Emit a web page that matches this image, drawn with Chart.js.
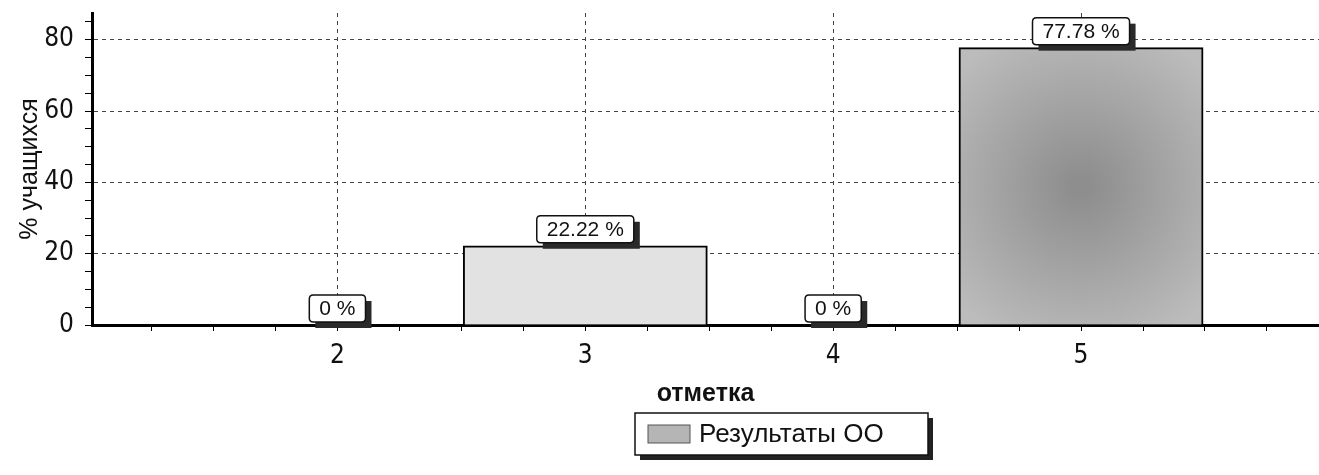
<!DOCTYPE html>
<html>
<head>
<meta charset="utf-8">
<script src="https://cdn.jsdelivr.net/npm/chart.js@4/dist/chart.umd.min.js"></script>
<style>
  html, body { margin: 0; padding: 0; background: #fff; }
  #wrap { width: 1319px; height: 475px; }
</style>
</head>
<body>
<div id="wrap"><canvas id="gradesChart"></canvas></div>
<script>
const grades = [2, 3, 4, 5]
const percents = [0, 22.22, 0, 77.78]
const barColors = ['#d6d6d6', '#e2e2e2', '#d6d6d6', '#a4a4a4']
const seriesName = 'Результаты ОО'
const xTitle = 'отметка'
const yTitle = '% учащихся'

const narrow = "'Liberation Sans Narrow', 'DejaVu Sans Condensed', sans-serif"
const sans = "'Liberation Sans', Arial, sans-serif"

const roundRect = (ctx, x, y, w, h, r) => {
  ctx.beginPath()
  ctx.moveTo(x + r, y)
  ctx.lineTo(x + w - r, y)
  ctx.quadraticCurveTo(x + w, y, x + w, y + r)
  ctx.lineTo(x + w, y + h - r)
  ctx.quadraticCurveTo(x + w, y + h, x + w - r, y + h)
  ctx.lineTo(x + r, y + h)
  ctx.quadraticCurveTo(x, y + h, x, y + h - r)
  ctx.lineTo(x, y + r)
  ctx.quadraticCurveTo(x, y, x + r, y)
  ctx.closePath()
}

const tickVal = (c) => (c.tick ? c.tick.value : NaN)

// the tallest bar is darker in the middle, like the scanned original
const barFill = (c) => {
  const base = barColors[c.dataIndex]
  const { x, y } = c.chart.scales
  if (c.dataIndex !== 3 || !x || !y || !c.chart.chartArea) return base
  const cx = x.getPixelForValue(grades[3])
  const cy = y.getPixelForValue(percents[3] / 2)
  const g = c.chart.ctx.createRadialGradient(cx, cy, 10, cx, cy, 170)
  g.addColorStop(0, '#8e8e8e')
  g.addColorStop(1, '#bcbcbc')
  return g
}

const barWidth = (c) => {
  const s = c.chart.scales.x
  if (!s) return 200
  return (s.getPixelForValue(3) - s.getPixelForValue(2)) * 0.985
}

// value boxes above the bars
const valueBoxes = {
  id: 'valueBoxes',
  afterDatasetsDraw(chart) {
    const ctx = chart.ctx
    const meta = chart.getDatasetMeta(0)
    ctx.save()
    ctx.font = '21px ' + sans
    ctx.textAlign = 'center'
    ctx.textBaseline = 'middle'
    meta.data.forEach((bar, i) => {
      const v = percents[i]
      const text = (v === 0 ? '0' : v.toFixed(2)) + ' %'
      const w = ctx.measureText(text).width + 20
      const h = 27
      const x = bar.x - w / 2
      const y = bar.y - h - 3
      ctx.fillStyle = '#2a2a2a'
      ctx.fillRect(x + 6, y + 6, w, h)
      roundRect(ctx, x, y, w, h, 4)
      ctx.fillStyle = '#fff'
      ctx.fill()
      ctx.lineWidth = 1.5
      ctx.strokeStyle = '#111'
      ctx.stroke()
      ctx.fillStyle = '#111'
      ctx.fillText(text, bar.x, y + h / 2 + 1)
    })
    ctx.restore()
  }
}

// framed legend under the axis title
const boxLegend = {
  id: 'boxLegend',
  afterDraw(chart) {
    const ctx = chart.ctx
    const x = 635, y = 413, w = 293, h = 42
    ctx.save()
    ctx.fillStyle = '#222'
    ctx.fillRect(x + 5, y + 5, w, h)
    ctx.fillStyle = '#fff'
    ctx.fillRect(x, y, w, h)
    ctx.lineWidth = 1.5
    ctx.strokeStyle = '#111'
    ctx.strokeRect(x, y, w, h)
    ctx.fillStyle = '#b5b5b5'
    ctx.fillRect(x + 13, y + 12, 42, 18)
    ctx.strokeStyle = '#555'
    ctx.lineWidth = 1
    ctx.strokeRect(x + 13, y + 12, 42, 18)
    ctx.fillStyle = '#111'
    ctx.font = '26px ' + sans
    ctx.textBaseline = 'middle'
    ctx.fillText(seriesName, x + 64, y + h / 2 + 1)
    ctx.restore()
  }
}

const makeChart = () => {
  const ctx = document.getElementById('gradesChart').getContext('2d')
  return new Chart(ctx, {
    type: 'bar',
    data: {
      datasets: [{
        label: seriesName,
        data: grades.map((g, i) => ({ x: g, y: percents[i] })),
        backgroundColor: barFill,
        borderColor: '#000',
        borderWidth: 2,
        borderSkipped: 'bottom',
        barThickness: barWidth
      }]
    },
    options: {
      responsive: true,
      maintainAspectRatio: false,
      animation: false,
      layout: { padding: { top: 13, right: 0, bottom: 60, left: 0 } },
      plugins: {
        legend: { display: false },
        tooltip: { enabled: false }
      },
      scales: {
        x: {
          type: 'linear',
          offset: false,
          min: 1.01,
          max: 5.96,
          afterFit: (s) => { s.height = 90 },
          ticks: {
            stepSize: 0.25,
            includeBounds: false,
            autoSkip: false,
            maxRotation: 0,
            padding: 10,
            color: '#111',
            font: { family: narrow, size: 26 },
            callback: (v) => Number.isInteger(v) ? String(v) : ''
          },
          grid: {
            offset: false,
            color: (c) => Number.isInteger(tickVal(c)) ? '#444' : 'rgba(0,0,0,0)',
            lineWidth: 1,
            drawTicks: true,
            tickLength: 6,
            tickColor: '#000',
            tickBorderDash: []
          },
          border: { display: true, color: '#000', width: 3, dash: [4, 4] },
          title: {
            display: true,
            text: xTitle,
            color: '#111',
            font: { family: sans, size: 25, weight: 'bold' },
            padding: { top: 4, bottom: 6 }
          }
        },
        y: {
          min: 0,
          max: 87.5,
          afterFit: (s) => { s.width = 92; s.paddingTop = 0 },
          ticks: {
            stepSize: 5,
            includeBounds: false,
            autoSkip: false,
            padding: 11,
            color: '#111',
            font: { family: narrow, size: 26 },
            callback: (v) => v % 20 === 0 ? String(v) : ''
          },
          grid: {
            color: (c) => (tickVal(c) % 20 === 0 && tickVal(c) > 0) ? '#444' : 'rgba(0,0,0,0)',
            lineWidth: 1,
            drawTicks: true,
            tickLength: 7,
            tickColor: '#000',
            tickBorderDash: []
          },
          border: { display: true, color: '#000', width: 3, dash: [4, 4] },
          title: {
            display: true,
            text: yTitle,
            color: '#111',
            font: { family: sans, size: 25 },
            padding: { top: 15, bottom: 4 }
          }
        }
      }
    },
    plugins: [valueBoxes, boxLegend]
  })
}

const chart = makeChart()
</script>
</body>
</html>
